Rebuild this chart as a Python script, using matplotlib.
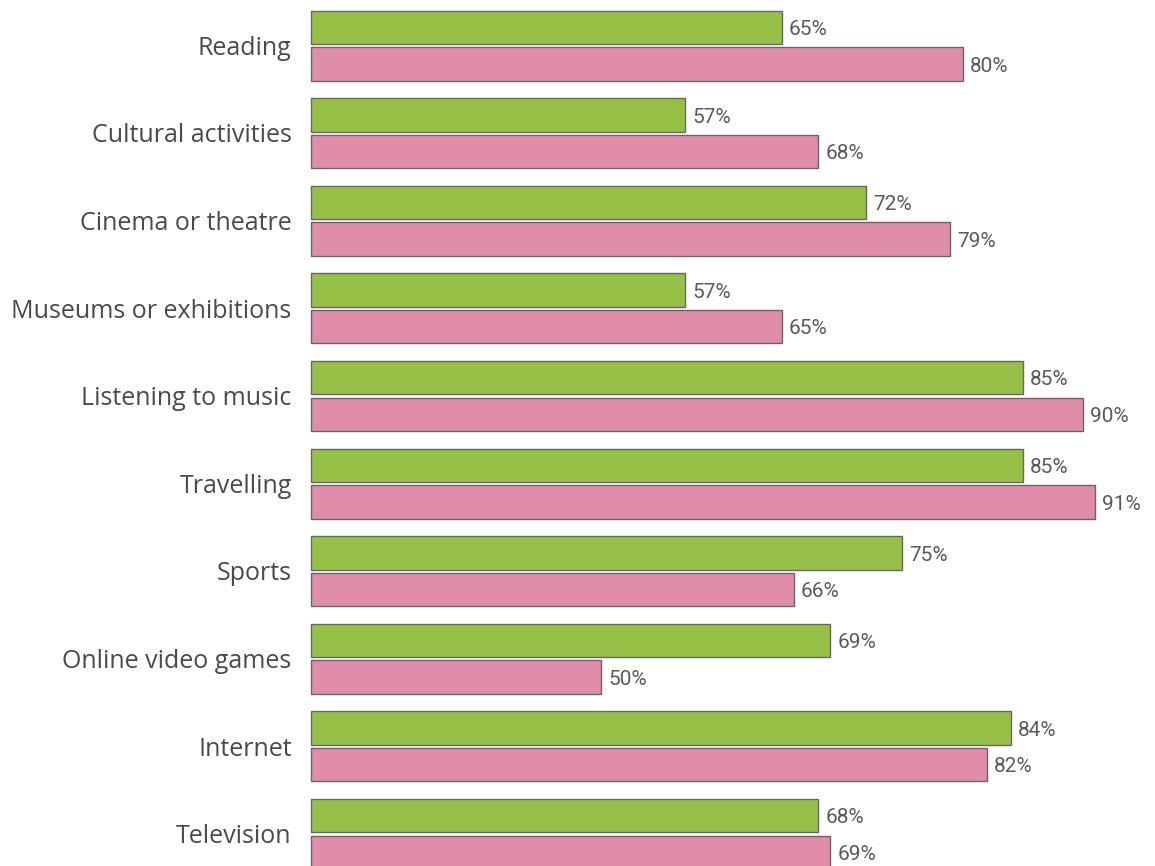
import numpy as np
import matplotlib.pyplot as plt

# Dados
categorias = ['Reading', 'Cultural activities', 'Cinema or theatre',
              'Museums or exhibitions', 'Listening to music', 'Travelling',
              'Sports', 'Online video games', 'Internet', 'Television']
verde = [65, 57, 72, 57, 85, 85, 75, 69, 84, 68]
rosa = [80, 68, 79, 65, 90, 91, 66, 50, 82, 69]

cor_verde = '#97c146'
cor_rosa = '#e08dac'
cor_borda = '#666666'

W, H = 1155, 866
fig = plt.figure(figsize=(W / 100, H / 100), dpi=100)

# origem do eixo em x (as barras comecam em ~26%)
x0 = 25.93
px_por_pct = 12.05
esq = 311
largura_px = W - esq
topo_px, base_px = 10.7, 869.0
ax = fig.add_axes([esq / W, 1 - base_px / H, largura_px / W, (base_px - topo_px) / H])
px_y = (base_px - topo_px) / 10.0  # pixels por grupo

y = np.arange(len(categorias))
h = 0.381
d = 0.209

ax.barh(y - d, np.array(verde) - x0, left=x0, height=h, color=cor_verde,
        edgecolor=cor_borda, linewidth=1.0, clip_on=False)
ax.barh(y + d, np.array(rosa) - x0, left=x0, height=h, color=cor_rosa,
        edgecolor=cor_borda, linewidth=1.0, clip_on=False)

# deslocamento da linha de base para centralizar os digitos/maiusculas
dv = 7.5 / px_y
dc = 9.0 / px_y
for i in range(len(categorias)):
    ax.text(verde[i] + 0.6, y[i] - d + dv, f'{verde[i]}%', va='baseline', ha='left',
            fontsize=15, family='Roboto', color='#5a5a5a')
    ax.text(rosa[i] + 0.6, y[i] + d + dv, f'{rosa[i]}%', va='baseline', ha='left',
            fontsize=15, family='Roboto', color='#5a5a5a')
    ax.text(x0 - 1.6, y[i] + dc, categorias[i], va='baseline', ha='right',
            fontsize=18, family='Open Sans', color='#4a4a4a')

ax.set_xlim(x0, x0 + largura_px / px_por_pct)
ax.set_ylim(len(categorias) - 1 + d + h / 2, -d - h / 2)
ax.axis('off')

plt.savefig('out.png', dpi=100)
